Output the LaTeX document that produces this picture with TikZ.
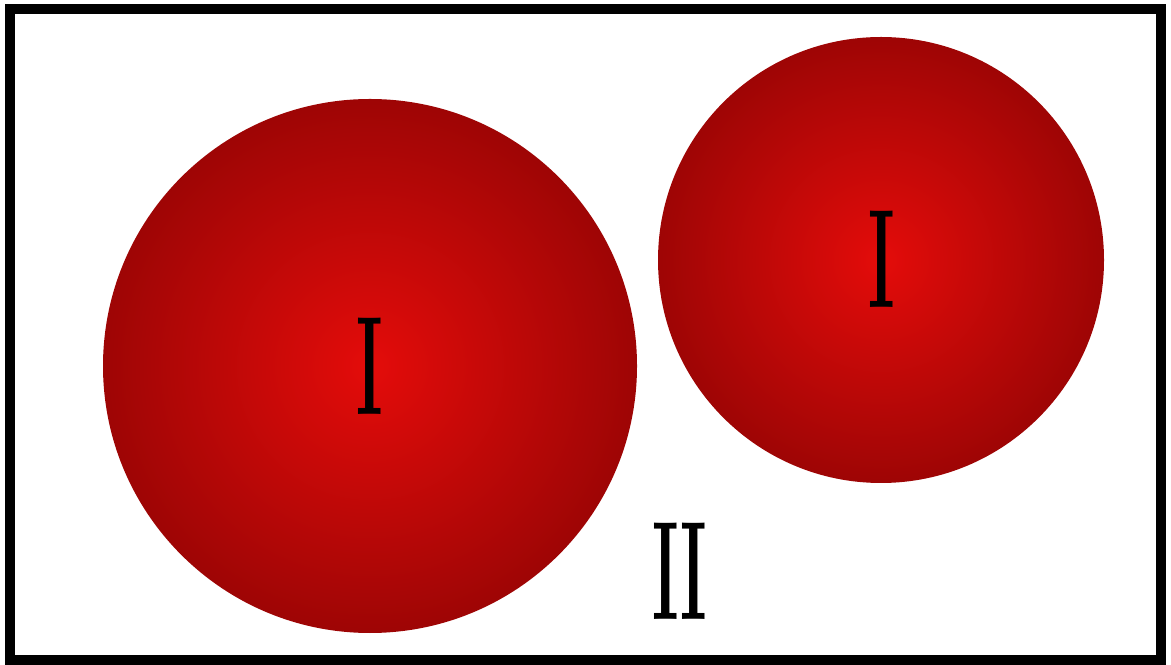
\documentclass[tikz,border=0pt]{standalone}
\usepackage{fontspec}
\usepackage{tikz}
\usetikzlibrary{positioning}
\definecolor{ballhi}{RGB}{228,12,10}
\definecolor{balllo}{RGB}{158,5,5}

\tikzset{
  numeral/.style={inner sep=0pt,font=\fontsize{100}{100}\selectfont\bfseries,xscale=0.45},
  ball/.style={inner color=ballhi,outer color=balllo}
}

\begin{document}
\begin{tikzpicture}
  \useasboundingbox (0,0) rectangle (29.275,16.6);
  \draw[line width=0.25cm] (0.25,0.1) rectangle (29.025,16.375);
  \shade[ball] (9.25,7.45) circle (6.675);
  \shade[ball] (22.025,10.1) circle (5.575);
  \node[numeral] (one-a) at (9.25,7.45) {I};
  \node[numeral] (one-b) at (22.05,10.125) {I};
  \node[numeral] (two) at (17.0,2.325) {II};
\end{tikzpicture}
\end{document}
